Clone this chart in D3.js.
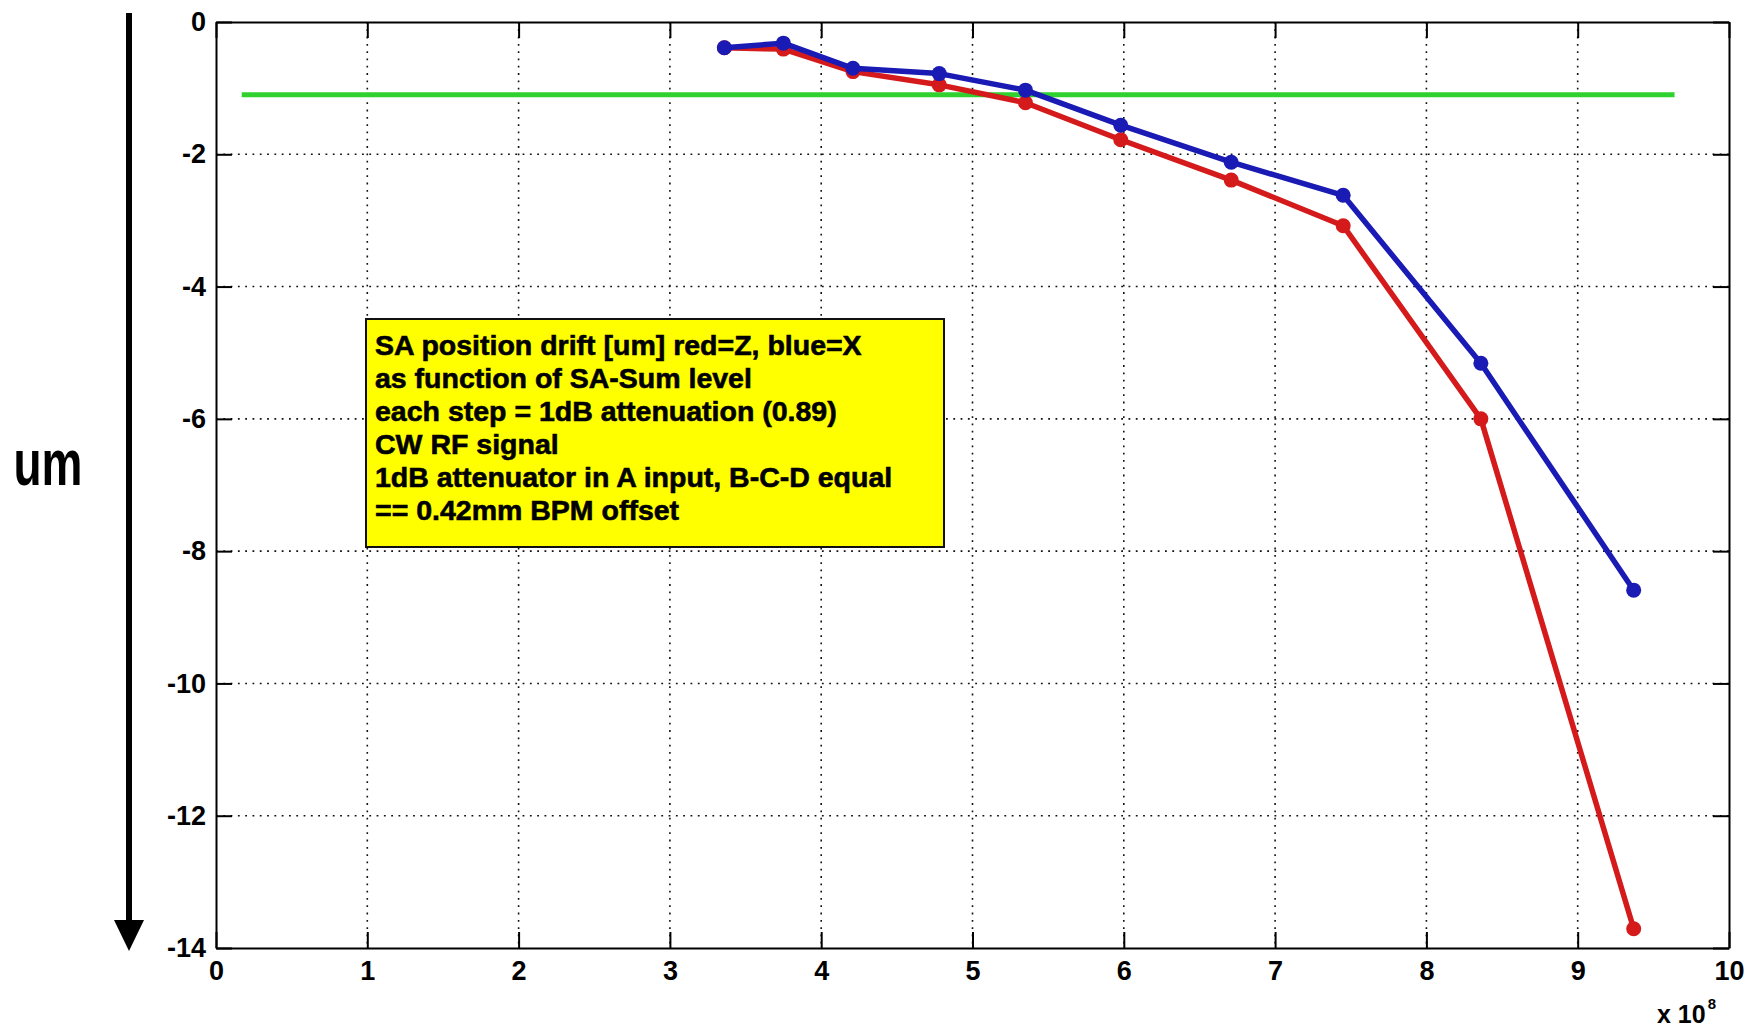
<!DOCTYPE html>
<html>
<head>
<meta charset="utf-8">
<script src="https://cdn.jsdelivr.net/npm/d3@7"></script>
<style>
  html, body { margin: 0; padding: 0; background: #ffffff; }
  svg { display: block; }
  text { font-family: "Liberation Sans", Arial, sans-serif; font-weight: bold; fill: #000; }
</style>
</head>
<body>
<svg id="chart" width="1756" height="1030"></svg>
<script>
// SA-Sum level (x 10^8); each step is 1 dB attenuation
const sumLevel = [3.36, 3.75, 4.21, 4.78, 5.35, 5.98, 6.71, 7.45, 8.36, 9.37];
// position drift [um]
const driftX = [-0.39, -0.32, -0.70, -0.78, -1.03, -1.56, -2.12, -2.62, -5.16, -8.59]; // blue
const driftZ = [-0.39, -0.41, -0.75, -0.95, -1.22, -1.78, -2.39, -3.08, -6.00, -13.71]; // red
// horizontal reference level
const refLevel = -1.1;
const refSpan = [0.17, 9.64];

const xTicks = [0, 1, 2, 3, 4, 5, 6, 7, 8, 9, 10];
const yTicks = [0, -2, -4, -6, -8, -10, -12, -14];

const noteLines = [
  "SA position drift [um] red=Z, blue=X",
  "as function of SA-Sum level",
  "each step = 1dB attenuation (0.89)",
  "CW RF signal",
  "1dB attenuator in A input, B-C-D equal",
  "== 0.42mm BPM offset"
];

const svg = d3.select("#chart");
const plot = { left: 216, right: 1729, top: 22, bottom: 948 };

const x = d3.scaleLinear().domain([0, 10]).range([plot.left, plot.right]);
const y = d3.scaleLinear().domain([-14, 0]).range([plot.bottom, plot.top]);

// dotted grid
const grid = svg.append("g").attr("stroke", "#111").attr("stroke-width", 1.6)
  .attr("stroke-dasharray", "1.8,5.5");
grid.selectAll("line.gx").data(xTicks.slice(1, -1)).join("line")
  .attr("x1", d => x(d)).attr("x2", d => x(d))
  .attr("y1", plot.top).attr("y2", plot.bottom);
grid.selectAll("line.gy").data(yTicks.slice(1, -1)).join("line")
  .attr("x1", plot.left).attr("x2", plot.right)
  .attr("y1", d => y(d)).attr("y2", d => y(d));

// axes with inward ticks on all four sides
const fmt = d => String(d);
const axisFont = g => g.selectAll("text")
  .style("font-size", "27px").style("font-weight", "bold")
  .style("font-family", "'Liberation Sans', Arial, sans-serif").attr("fill", "#000");
const axisLines = g => {
  g.select(".domain").attr("stroke", "#000").attr("stroke-width", 2);
  g.selectAll(".tick line").attr("stroke", "#000").attr("stroke-width", 2);
};

svg.append("g").attr("transform", `translate(0,${plot.bottom})`)
  .call(d3.axisBottom(x).tickValues(xTicks).tickFormat(fmt).tickSize(-16).tickSizeOuter(0).tickPadding(13))
  .call(axisFont).call(axisLines);
svg.append("g").attr("transform", `translate(0,${plot.top})`)
  .call(d3.axisTop(x).tickValues(xTicks).tickFormat("").tickSize(-16).tickSizeOuter(0))
  .call(axisLines);
svg.append("g").attr("transform", `translate(${plot.left},0)`)
  .call(d3.axisLeft(y).tickValues(yTicks).tickFormat(fmt).tickSize(-16).tickSizeOuter(0).tickPadding(10))
  .call(axisFont).call(axisLines);
svg.append("g").attr("transform", `translate(${plot.right},0)`)
  .call(d3.axisRight(y).tickValues(yTicks).tickFormat("").tickSize(-16).tickSizeOuter(0))
  .call(axisLines);

// exponent label
const expo = svg.append("text").attr("x", 1657).attr("y", 1023).style("font-size", "25px");
expo.append("tspan").text("x 10");
expo.append("tspan").attr("dx", 2).attr("dy", -14).style("font-size", "15px").text("8");

// green reference line
svg.append("line")
  .attr("x1", x(refSpan[0])).attr("x2", x(refSpan[1]))
  .attr("y1", y(refLevel)).attr("y2", y(refLevel))
  .attr("stroke", "#2ed12e").attr("stroke-width", 5);

// annotation box
const box = svg.append("g");
box.append("rect").attr("x", 366).attr("y", 319).attr("width", 578).attr("height", 228)
  .attr("fill", "#ffff00").attr("stroke", "#111").attr("stroke-width", 2);
box.selectAll("text").data(noteLines).join("text")
  .attr("x", 375).attr("y", (d, i) => 355 + i * 33)
  .style("font-size", "28.5px")
  .attr("stroke", "#000").attr("stroke-width", 0.6)
  .text(d => d);

// data series
const line = d3.line().x(d => x(d[0])).y(d => y(d[1]));
const series = [
  { values: driftZ, color: "#d41a1a" },
  { values: driftX, color: "#1a1ab4" }
];
series.forEach(s => {
  const pts = sumLevel.map((v, i) => [v, s.values[i]]);
  svg.append("path").datum(pts).attr("d", line)
    .attr("fill", "none").attr("stroke", s.color).attr("stroke-width", 5.5)
    .attr("stroke-linejoin", "round");
  svg.append("g").selectAll("circle").data(pts).join("circle")
    .attr("cx", d => x(d[0])).attr("cy", d => y(d[1])).attr("r", 7.5)
    .attr("fill", s.color);
});

// unit label with downward arrow
svg.append("line").attr("x1", 129).attr("x2", 129).attr("y1", 13).attr("y2", 925)
  .attr("stroke", "#000").attr("stroke-width", 6);
svg.append("path").attr("d", "M114,920 L144,920 L129,951 Z").attr("fill", "#000");
svg.append("text").attr("x", 48).attr("y", 0)
  .attr("transform", "translate(0,485) scale(1,1.4)")
  .attr("text-anchor", "middle").style("font-size", "46px").text("um");
</script>
</body>
</html>
